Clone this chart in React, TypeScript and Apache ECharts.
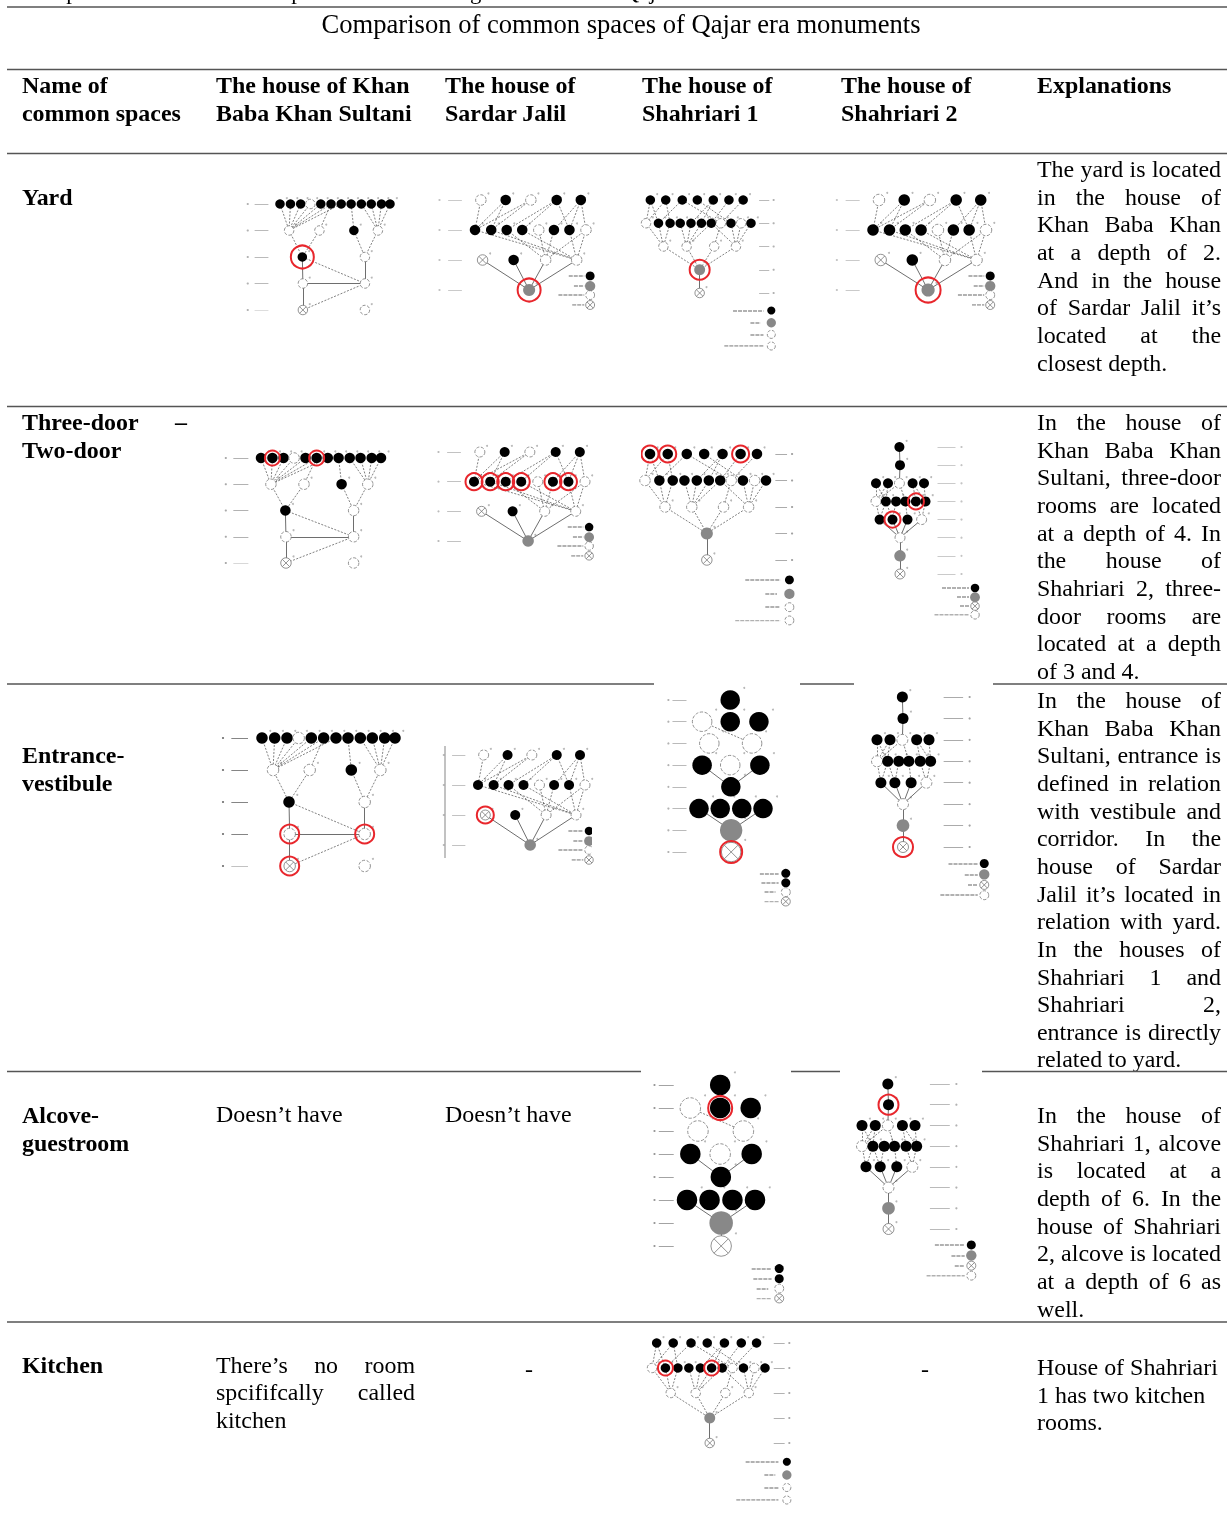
import React, { useEffect, useRef } from "react";
import * as echarts from "echarts";

// ---------- table text ----------
const FONT = '"Liberation Serif"';
const titleText = "Comparison of common spaces of Qajar era monuments";
const clippedCaption = "Comparison of the common spaces of the buildings of the second Qajar era";
const headerLines: [number, number, string][] = [
  [22, 85, "Name of"], [22, 113, "common spaces"],
  [216, 85, "The house of Khan"], [216, 113, "Baba Khan Sultani"],
  [445, 85, "The house of"], [445, 113, "Sardar Jalil"],
  [642, 85, "The house of"], [642, 113, "Shahriari 1"],
  [841, 85, "The house of"], [841, 113, "Shahriari 2"],
  [1037, 85, "Explanations"],
];
const rowLabels: [number, string][] = [
  [197, "Yard"], [450, "Two-door"], [755, "Entrance-"], [783, "vestibule"],
  [1115, "Alcove-"], [1143, "guestroom"], [1365, "Kitchen"],
];
const plainCells: [number, number, string][] = [
  [216, 1114, "Doesn’t have"], [445, 1114, "Doesn’t have"], [216, 1420, "kitchen"],
];
const dashCells: [number, number][] = [[525, 1369], [921, 1369]];
const explYard = ["The yard is located", "in the house of", "Khan Baba Khan", "at a depth of 2.", "And in the house", "of Sardar Jalil it’s", "located at the", "closest depth."];
const explDoor = ["In the house of", "Khan Baba Khan", "Sultani, three-door", "rooms are located", "at a depth of 4. In", "the house of", "Shahriari 2, three-", "door rooms are", "located at a depth", "of 3 and 4."];
const explEntrance = ["In the house of", "Khan Baba Khan", "Sultani, entrance is", "defined in relation", "with vestibule and", "corridor. In the", "house of Sardar", "Jalil it’s located in", "relation with yard.", "In the houses of", "Shahriari 1 and", "Shahriari 2,", "entrance is directly", "related to yard."];
const explAlcove = ["In the house of", "Shahriari 1, alcove", "is located at a", "depth of 6. In the", "house of Shahriari", "2, alcove is located", "at a depth of 6 as", "well."];
const explKitchen = ["House of Shahriari", "1 has two kitchen", "rooms."];
const ruleSegments: [number, number, number][] = [
  [7, 7, 1227], [69.5, 7, 1227], [153.5, 7, 1227], [406.5, 7, 1227],
  [684, 7, 654], [684, 800, 854], [684, 993, 1227],
  [1071.5, 7, 641], [1071.5, 791, 840], [1071.5, 982, 1227],
  [1322, 7, 1227],
];

// ---------- diagrams: node = [depth level, horizontal position, kind] ----------
type Node = [number, number, string];
const khanNodes: Node[] = [
  [1,157,"b"],[1,195,"b"],[1,232,"b"],[1,267,"w"],[1,305,"b"],[1,342,"b"],[1,379,"b"],[1,415,"b"],[1,452,"b"],[1,488,"b"],[1,525,"b"],[1,556,"b"],
  [2,190,"w"],[2,300,"w"],[2,425,"b"],[2,512,"w"],
  [3,238,"b"],[3,465,"w"],
  [4,240,"w"],[4,465,"w"],
  [5,240,"x"],[5,465,"w"],
];
const khanDashed = [[0,12],[1,12],[2,12],[3,12],[4,12],[5,12],[6,12],[5,13],[7,14],[8,15],[9,15],[10,15],[11,15],[12,16],[13,16],[14,17],[15,17],[16,19],[19,20]];
const khanSolid = [[16,18],[17,19],[18,19],[18,20]];

const jalilNodes: Node[] = [
  [1,820,"w"],[1,892,"b"],[1,965,"w"],[1,1040,"b"],[1,1110,"b"],
  [2,803,"b"],[2,850,"b"],[2,895,"b"],[2,940,"b"],[2,988,"w"],[2,1032,"b"],[2,1077,"b"],[2,1125,"w"],
  [3,825,"x"],[3,915,"b"],[3,1008,"w"],[3,1098,"w"],
  [4,960,"g"],
];
const jalilDashed = [[0,5],[1,5],[1,6],[2,5],[2,6],[3,7],[3,8],[3,11],[4,11],[4,12],[4,10],[5,16],[6,16],[7,15],[8,16],[9,15],[10,15],[11,16],[12,16],[12,15]];
const jalilSolid = [[13,17],[14,17],[15,17],[16,17]];

const denseNodes: Node[] = [
  [1,60,"b"],[1,113,"b"],[1,170,"b"],[1,222,"b"],[1,277,"b"],[1,331,"b"],[1,380,"b"],
  [2,45,"w"],[2,88,"b"],[2,128,"b"],[2,163,"b"],[2,200,"b"],[2,236,"b"],[2,270,"b"],[2,303,"w"],[2,338,"b"],[2,373,"w"],[2,407,"b"],
  [3,105,"w"],[3,185,"w"],[3,280,"w"],[3,355,"w"],
  [4,230,"g"],
  [5,230,"x"],
];
const denseDashed = [[0,7],[0,8],[1,7],[1,9],[2,8],[2,14],[3,15],[4,12],[4,11],[5,13],[6,14],[7,18],[8,18],[9,18],[10,19],[11,19],[12,19],[13,19],[14,20],[13,21],[15,21],[16,21],[17,21],[18,22],[19,22],[20,22],[21,22]];
const denseSolid = [[22,23]];

const tallNodes: Node[] = [
  [1,240,"b"],
  [2,150,"w"],[2,240,"b"],[2,332,"b"],
  [3,173,"w"],[3,310,"w"],
  [4,150,"b"],[4,240,"w"],[4,335,"b"],
  [5,242,"b"],
  [6,140,"b"],[6,208,"b"],[6,277,"b"],[6,345,"b"],
  [7,243,"g"],
  [8,243,"x"],
];
const tallDashed = [[1,5]];
const tallSolid = [[6,9],[8,9],[10,14],[13,14],[14,15]];

const slimNodes: Node[] = [
  [1,743,"b"],[2,745,"b"],
  [3,665,"b"],[3,705,"b"],[3,743,"w"],[3,787,"b"],[3,825,"b"],
  [4,665,"w"],[4,698,"b"],[4,732,"b"],[4,763,"b"],[4,798,"b"],[4,830,"b"],
  [5,677,"b"],[5,720,"b"],[5,770,"b"],[5,817,"w"],
  [6,745,"w"],[7,745,"g"],[8,745,"x"],
];
const slimDashed = [[2,7],[3,7],[4,7],[2,8],[3,8],[4,10],[5,11],[6,12],[5,12],[7,13],[8,13],[8,14],[9,14],[10,15],[11,16],[12,16]];
const slimSolid = [[0,1],[1,4],[17,18],[18,19],[13,17],[14,17],[15,17],[16,17]];

const legendKinds: Record<string, string[]> = {
  jalil: ["b", "g", "w", "x"], dense: ["b", "g", "w", "w"], tall: ["b", "b", "w", "x"], slim: ["b", "g", "x", "w"],
};
const templates: Record<string, any> = {
  khan: { nodes: khanNodes, dashed: khanDashed, solid: khanSolid, levels: [1,2,3,4,5], tick: [65,115], digit: 40, domain: [157,556], last: 5, legendX: 0, legendY: [], legendDash: [] },
  jalil: { nodes: jalilNodes, dashed: jalilDashed, solid: jalilSolid, levels: [1,2,3,4], tick: [725,765], digit: 700, domain: [803,1125], last: 4, legendX: 1137, legendY: [3.53,3.87,4.17,4.5], legendDash: [[1075,1120],[1090,1120],[1045,1120],[1085,1120]] },
  dense: { nodes: denseNodes, dashed: denseDashed, solid: denseSolid, levels: [1,2,3,4,5], tick: [435,470], digit: 485, domain: [45,407], last: 5, legendX: 477, legendY: [5.75,6.28,6.78,7.28], legendDash: [[345,450],[405,440],[405,450],[315,450]] },
  tall: { nodes: tallNodes, dashed: tallDashed, solid: tallSolid, levels: [1,2,3,4,5,6,7,8], tick: [55,100], digit: 42, domain: [140,345], last: 8, legendX: 418, legendY: [8.98,9.42,9.85,10.28], legendDash: [[335,395],[340,395],[350,385],[350,395]] },
  slim: { nodes: slimNodes, dashed: slimDashed, solid: slimSolid, levels: [1,2,3,4,5,6,7,8], tick: [870,930], digit: 950, domain: [665,825], last: 8, legendX: 995, legendY: [8.77,9.28,9.77,10.25], legendDash: [[885,975],[935,975],[945,975],[860,975]] },
};

// template, [x of domain start, x of domain end, y of first level, y of last level], node size, ring size, highlighted nodes, tick opacity
const placements: [string, number[], number, number, number[], number][] = [
  ["khan", [280,390,204,310], 9.5, 23, [16], 0.45],
  ["jalil", [475,586,200,290], 10.5, 23, [17], 0.35],
  ["dense", [646,751,200,293], 9.5, 20, [22], 0.45],
  ["jalil", [873,986,200,290], 11.5, 25, [17], 0.35],
  ["khan", [261,381,458,563], 10.5, 15, [1,5], 0.5],
  ["jalil", [474,585,452,541], 10, 17, [5,6,7,8,10,11], 0.4],
  ["dense", [645,766,454,560], 10.5, 17, [0,1,5], 0.55],
  ["slim", [876,924,447,574], 10, 16, [11,14], 0.35],
  ["khan", [262,395,738,866], 11.5, 19, [18,19,20], 0.8],
  ["jalil", [478,585,755,845], 10, 17, [13], 0.4],
  ["tall", [699,763,700,852], 19.5, 22, [15], 0.45],
  ["slim", [877,929,697,847], 11, 20, [19], 0.55],
  ["tall", [687,755,1085,1246], 20.5, 24, [2], 0.6],
  ["slim", [862,915,1084,1229], 11, 20, [1], 0.45],
  ["dense", [652,765,1343,1443], 9.5, 15, [8,12], 0.5],
];
// white parts of the photographed cells
const cropMasks = [[628,440,13,30],[592,815,14,40]];
const imageEdge = [445, 746, 858];

const crossSymbol = "path://M2 12a10 10 0 1 0 20 0a10 10 0 1 0-20 0zM5 5L19 19M19 5L5 19";

function nodeItem(kind: string, size: number) {
  if (kind === "b") return { symbol: "circle", symbolSize: size, itemStyle: { color: "#000", opacity: 1 } };
  if (kind === "g") return { symbol: "circle", symbolSize: size * 1.15, itemStyle: { color: "#888", opacity: 1 } };
  if (kind === "x") return { symbol: crossSymbol, symbolSize: size, itemStyle: { color: "#fff", borderColor: "#777", borderWidth: 0.8, opacity: 1 } };
  return { symbol: "circle", symbolSize: size, itemStyle: { color: "#fff", borderColor: "#777", borderWidth: 0.8, borderType: "dashed", opacity: 1 } };
}

function diagramOption() {
  const grid: any[] = [], xAxis: any[] = [], yAxis: any[] = [], series: any[] = [];
  placements.forEach(([name, box, size, ring, marks, tickOpacity], i) => {
    const t = templates[name];
    // the axes extend past the nodes so that level ticks and legends stay inside them
    const xs = [t.domain[0], t.domain[1], t.digit, t.tick[0], t.tick[1], ...(t.legendY.length ? [t.legendX] : []), ...t.legendDash.flat()];
    const xMin = Math.min(...xs), xMax = Math.max(...xs);
    const yMax = Math.max(t.last, ...t.legendY);
    const pxX = (v: number) => box[0] + ((v - t.domain[0]) / (t.domain[1] - t.domain[0])) * (box[1] - box[0]);
    const pxY = (v: number) => box[2] + ((v - 1) / (t.last - 1)) * (box[3] - box[2]);
    grid.push({ show: false, left: pxX(xMin), width: pxX(xMax) - pxX(xMin), top: box[2], height: pxY(yMax) - box[2] });
    xAxis.push({ gridIndex: i, type: "value", min: xMin, max: xMax, show: false });
    yAxis.push({ gridIndex: i, type: "value", min: 1, max: yMax, inverse: true, show: false });
    const at = { xAxisIndex: i, yAxisIndex: i, silent: true, animation: false };
    const seg = (p: number[]) => ({ coords: [[t.nodes[p[0]][1], t.nodes[p[0]][0]], [t.nodes[p[1]][1], t.nodes[p[1]][0]]] });
    const lines = (data: any[], style: any, z: number) => ({ ...at, type: "lines", coordinateSystem: "cartesian2d", data, lineStyle: { curveness: 0, ...style }, z });
    series.push(lines(t.dashed.map(seg), { color: "#444", width: 0.8, type: [2, 1.5], opacity: 0.85 }, 2));
    series.push(lines(t.solid.map(seg), { color: "#555", width: 1, opacity: 0.85 }, 2));
    series.push(lines(t.levels.map((l: number) => ({ coords: [[t.tick[0], l], [t.tick[1], l]] })), { color: "#666", width: 1, opacity: tickOpacity }, 1));
    series.push({ ...at, type: "scatter", data: t.levels.map((l: number) => [t.digit, l]), symbolSize: 2.2, itemStyle: { color: "#555", opacity: tickOpacity }, z: 1 });
    series.push({ ...at, type: "scatter", data: t.nodes.map((n: Node) => ({ value: [n[1], n[0]] })), symbolSize: 2, symbolOffset: [size * 0.72, -size * 0.62], itemStyle: { color: "#888", opacity: 0.6 }, z: 1 });
    series.push({ ...at, type: "scatter", data: t.nodes.map((n: Node) => ({ value: [n[1], n[0]], ...nodeItem(n[2], size) })), z: 3 });
    series.push({
      ...at, type: "scatter", data: marks.map((m) => [t.nodes[m][1], t.nodes[m][0]]), symbol: "circle", symbolSize: ring,
      itemStyle: { color: "rgba(0,0,0,0)", borderColor: "#e8262c", borderWidth: 2, opacity: 1 }, z: 4,
    });
    if (t.legendY.length) {
      const kinds = legendKinds[name];
      const legendSize = Math.max(7, Math.min(9, size * 0.85));
      series.push({ ...at, type: "scatter", data: t.legendY.map((y: number, k: number) => ({ value: [t.legendX, y], ...nodeItem(kinds[k], legendSize) })), z: 3 });
      series.push(lines(t.legendY.map((y: number, k: number) => ({ coords: [[t.legendDash[k][0], y], [t.legendDash[k][1], y]] })), { color: "#444", width: 1.6, type: [4, 1], opacity: 0.55 }, 2));
    }
  });
  return {
    animation: false, grid, xAxis, yAxis, series,
    graphic: [
      ...cropMasks.map((m) => ({ type: "rect", z: 100, shape: { x: m[0], y: m[1], width: m[2], height: m[3] }, style: { fill: "#fff" } })),
      { type: "line", z: 100, shape: { x1: imageEdge[0], y1: imageEdge[1], x2: imageEdge[0], y2: imageEdge[2] }, style: { stroke: "#999", lineWidth: 1.2 } },
    ],
  };
}

// ---------- table drawing ----------
const SIZE = 23.95;
const TITLE_SIZE = 26.6;
const CAPTION_SIZE = 22.75;
const measure = (() => {
  const c = document.createElement("canvas").getContext("2d")!;
  return (s: string, bold: boolean, size: number) => {
    c.font = `${bold ? "bold " : ""}${size}px ${FONT}`;
    return c.measureText(s).width;
  };
})();

function label(x: number, y: number, text: string, bold = false, size = SIZE, align = "left") {
  return { type: "text", x, y, silent: true, style: { text, fontFamily: FONT, fontSize: size, fontWeight: bold ? "bold" : "normal", fill: "#000", align, verticalAlign: "middle" } };
}
function justified(x0: number, x1: number, y: number, text: string, bold = false) {
  const words = text.split(" ");
  const total = words.reduce((a, w) => a + measure(w, bold, SIZE), 0);
  const gap = (x1 - x0 - total) / Math.max(1, words.length - 1);
  let x = x0;
  return words.map((w) => {
    const el = label(x, y, w, bold);
    x += measure(w, bold, SIZE) + gap;
    return el;
  });
}
function explanation(lines: string[], firstY: number) {
  const step = 27.65;
  return lines.flatMap((l, i) => {
    const y = firstY + i * step;
    return i === lines.length - 1 ? [label(1037, y, l)] : justified(1037, 1221, y, l);
  });
}

function tableOption() {
  const graphic: any[] = [
    label(22, -9, clippedCaption, false, CAPTION_SIZE),
    label(621, 24, titleText, false, TITLE_SIZE, "center"),
    ...headerLines.map(([x, y, t]) => label(x, y, t, true)),
    ...rowLabels.map(([y, t]) => label(22, y, t, true)),
    ...justified(22, 187, 422, "Three-door –", true),
    ...plainCells.map(([x, y, t]) => label(x, y, t)),
    ...dashCells.map(([x, y]) => label(x, y, "-")),
    ...justified(216, 415, 1365, "There’s no room"),
    ...justified(216, 415, 1392, "spcififcally called"),
    ...explanation(explYard, 169),
    ...explanation(explDoor, 422),
    ...explanation(explEntrance, 700),
    ...explanation(explAlcove, 1115),
    ...explKitchen.map((l, i) => label(1037, 1367 + i * 27.65, l)),
    ...ruleSegments.map(([y, a, b]) => ({ type: "line", silent: true, shape: { x1: a, y1: y, x2: b, y2: y }, style: { stroke: "#555", lineWidth: 1.3 } })),
  ];
  return { animation: false, graphic };
}

export default function App() {
  const tableRef = useRef<HTMLDivElement>(null);
  const diagramRef = useRef<HTMLDivElement>(null);
  useEffect(() => {
    const a = echarts.init(tableRef.current!, undefined, { renderer: "svg" });
    const b = echarts.init(diagramRef.current!, undefined, { renderer: "svg" });
    a.setOption(tableOption());
    b.setOption(diagramOption());
    return () => { a.dispose(); b.dispose(); };
  }, []);
  const box: React.CSSProperties = { position: "absolute", left: 0, top: 0, width: 1227, height: 1517 };
  return (
    <div style={{ ...box, overflow: "hidden", background: "#fff" }}>
      <div ref={tableRef} style={{ ...box, filter: "blur(0.25px)" }} />
      <div ref={diagramRef} style={{ ...box, filter: "blur(0.6px)" }} />
    </div>
  );
}
